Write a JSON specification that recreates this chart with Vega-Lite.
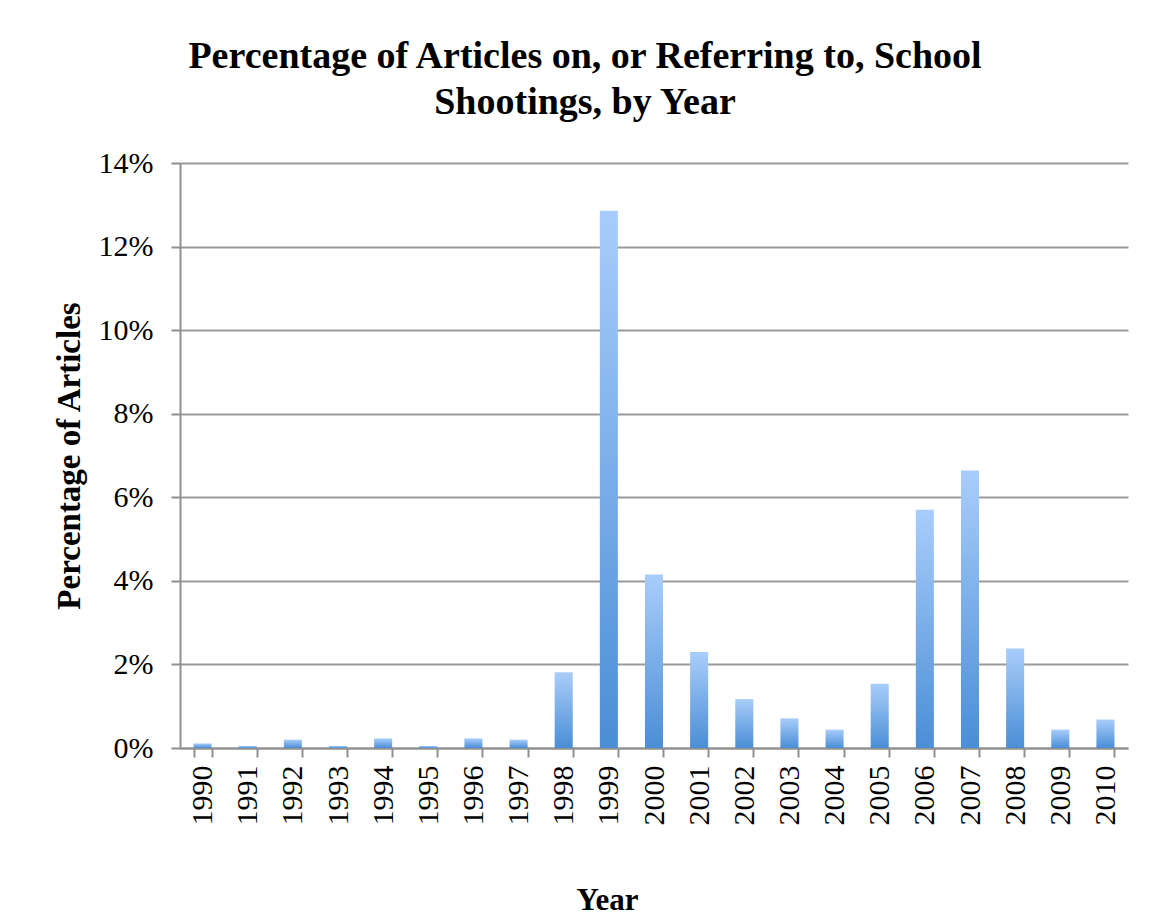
{
  "$schema": "https://vega.github.io/schema/vega-lite/v6.json",
  "autosize": "none",
  "width": 948,
  "height": 585,
  "padding": {"left": 180, "top": 163, "right": 32, "bottom": 169},
  "background": "white",
  "title": {
    "text": ["Percentage of Articles on, or Referring to, School", "Shootings, by Year"],
    "font": "Liberation Serif",
    "fontSize": 38,
    "fontWeight": "bold",
    "color": "black",
    "anchor": "middle",
    "frame": "group",
    "dx": -69,
    "offset": 26,
    "lineHeight": 46
  },
  "data": {
    "values": [
      {"year": "1990", "pct": 0.11},
      {"year": "1991", "pct": 0.05},
      {"year": "1992", "pct": 0.2},
      {"year": "1993", "pct": 0.05},
      {"year": "1994", "pct": 0.23},
      {"year": "1995", "pct": 0.05},
      {"year": "1996", "pct": 0.23},
      {"year": "1997", "pct": 0.2},
      {"year": "1998", "pct": 1.81},
      {"year": "1999", "pct": 12.86},
      {"year": "2000", "pct": 4.15},
      {"year": "2001", "pct": 2.3},
      {"year": "2002", "pct": 1.17},
      {"year": "2003", "pct": 0.71},
      {"year": "2004", "pct": 0.44},
      {"year": "2005", "pct": 1.54},
      {"year": "2006", "pct": 5.7},
      {"year": "2007", "pct": 6.64},
      {"year": "2008", "pct": 2.38},
      {"year": "2009", "pct": 0.44},
      {"year": "2010", "pct": 0.68}
    ]
  },
  "mark": {
    "type": "bar",
    "fill": {
      "gradient": "linear",
      "x1": 0, "y1": 0, "x2": 0, "y2": 1,
      "stops": [
        {"offset": 0, "color": "#a9cdfa"},
        {"offset": 1, "color": "#4a8ed6"}
      ]
    }
  },
  "encoding": {
    "x": {
      "field": "year",
      "type": "ordinal",
      "scale": {"paddingInner": 0.6, "paddingOuter": 0.3},
      "axis": {
        "title": "Year",
        "titleFont": "Liberation Serif",
        "titleFontSize": 31,
        "titleFontWeight": "bold",
        "titleColor": "black",
        "titleX": 427,
        "titleY": 152,
        "titleBaseline": "middle",
        "labelAngle": -90,
        "labelFont": "Liberation Serif",
        "labelFontSize": 30,
        "labelColor": "black",
        "labelPadding": 8,
        "tickBand": "extent",
        "tickSize": 9,
        "tickWidth": 2,
        "tickColor": "#8f8f8f",
        "domainColor": "#8f8f8f",
        "domainWidth": 2,
        "grid": false
      }
    },
    "y": {
      "field": "pct",
      "type": "quantitative",
      "scale": {"domain": [0, 14], "nice": false},
      "axis": {
        "title": "Percentage of Articles",
        "titleFont": "Liberation Serif",
        "titleFontSize": 33,
        "titleFontWeight": "bold",
        "titleColor": "black",
        "titlePadding": 12,
        "values": [0, 2, 4, 6, 8, 10, 12, 14],
        "labelExpr": "datum.value + '%'",
        "labelFont": "Liberation Serif",
        "labelFontSize": 30,
        "labelColor": "black",
        "labelPadding": 18,
        "tickSize": 9,
        "tickWidth": 2,
        "tickColor": "#8f8f8f",
        "domainColor": "#8f8f8f",
        "domainWidth": 2,
        "grid": true,
        "gridColor": "#9a9a9a",
        "gridWidth": 2
      }
    }
  },
  "config": {
    "view": {"stroke": null}
  }
}
